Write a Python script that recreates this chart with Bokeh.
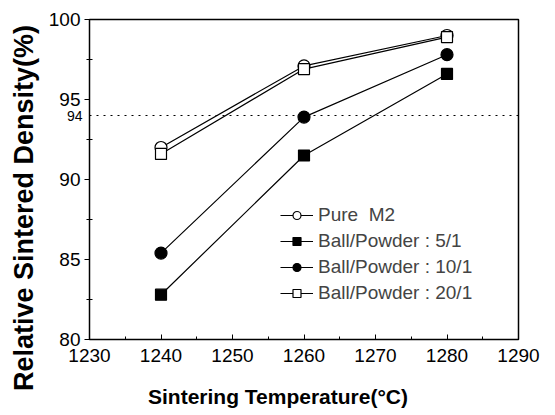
from bokeh.plotting import figure
from bokeh.models import FixedTicker, Legend, LegendItem, Label
from bokeh.embed import file_html
from bokeh.resources import INLINE

temps = [1240, 1260, 1280]
pure_m2 = [92.0, 97.1, 99.0]
bp_5_1 = [82.8, 91.5, 96.6]
bp_10_1 = [85.4, 93.9, 97.8]
bp_20_1 = [91.6, 96.9, 98.9]
labels = ["Pure  M2", "Ball/Powder : 5/1", "Ball/Powder : 10/1", "Ball/Powder : 20/1"]
y_ticks = [80, 85, 90, 95, 100]
x_ticks = [1230, 1240, 1250, 1260, 1270, 1280, 1290]
ref_level = 94
x_title = "Sintering Temperature(°C)"
y_title = "Relative Sintered Density(%)"

FONT = "Liberation Sans"

# The frame covers the whole canvas so that nothing (tick labels, the small
# "94" label) is clipped; the axes box sits at these pixel margins.
W, H = 555, 415
M_LEFT, M_RIGHT, M_TOP, M_BOTTOM = 89, 37, 19, 76
X0, X1 = x_ticks[0], x_ticks[-1]
Y0, Y1 = y_ticks[0], y_ticks[-1]
kx = (W - M_LEFT - M_RIGHT) / (X1 - X0)
ky = (H - M_TOP - M_BOTTOM) / (Y1 - Y0)
x_range = (X0 - M_LEFT / kx, X1 + M_RIGHT / kx)
y_range = (Y0 - M_BOTTOM / ky, Y1 + M_TOP / ky)

p = figure(width=W, height=H, output_backend="svg", toolbar_location=None,
           x_range=x_range, y_range=y_range, frame_width=W, frame_height=H,
           min_border=0)
p.background_fill_color = "white"
p.border_fill_color = "white"
p.outline_line_alpha = 0
p.xgrid.visible = False
p.ygrid.visible = False

# axes box
p.quad(left=[X0], right=[X1], bottom=[Y0], top=[Y1], fill_alpha=0,
       line_color="black", line_width=1.5)

for ax in (p.xaxis[0], p.yaxis[0]):
    ax.axis_line_alpha = 0
    ax.major_tick_line_color = "black"
    ax.minor_tick_line_color = "black"
    ax.major_label_text_font = FONT
    ax.major_label_text_font_size = "19px"
    ax.major_label_text_color = "black"
    ax.axis_label_text_font = FONT
    ax.axis_label_text_font_style = "bold"
    ax.axis_label_text_color = "black"

p.xaxis.fixed_location = Y0
p.xaxis.ticker = FixedTicker(ticks=x_ticks, minor_ticks=[1235, 1245, 1255, 1265, 1275, 1285])
p.xaxis.major_tick_in = 5
p.xaxis.major_tick_out = 0
p.xaxis.minor_tick_in = 3
p.xaxis.minor_tick_out = 0
p.xaxis.major_label_standoff = 9
p.xaxis.axis_label = x_title
p.xaxis.axis_label_text_font_size = "21px"
p.xaxis.axis_label_standoff = 20

p.yaxis.fixed_location = X0
p.yaxis.ticker = FixedTicker(ticks=y_ticks, minor_ticks=[82.5, 87.5, 92.5, 97.5])
p.yaxis.major_tick_in = 0
p.yaxis.major_tick_out = 5
p.yaxis.minor_tick_in = 3
p.yaxis.minor_tick_out = 3
p.yaxis.major_label_standoff = 4
p.yaxis.axis_label = y_title
p.yaxis.axis_label_text_font_size = "27px"
p.yaxis.axis_label_standoff = 7

# dotted reference line at 94 and its small label
p.line([X0, X1], [ref_level, ref_level], line_color="black",
       line_dash="2 5", line_width=1.2)
p.add_layout(Label(x=X0, y=ref_level, text=str(ref_level), text_align="right",
                   text_baseline="middle", x_offset=-7, text_font=FONT,
                   text_font_size="14px", text_color="black"))

series = [
    (pure_m2, "circle", "white", 12),
    (bp_5_1, "square", "black", 11),
    (bp_10_1, "circle", "black", 12),
    (bp_20_1, "square", "white", 11),
]
items = []
for (vals, marker, fill, sz), lab in zip(series, labels):
    ln = p.line(temps, vals, line_color="black", line_width=1.2)
    sc = p.scatter(temps, vals, marker=marker, size=sz, fill_color=fill,
                   line_color="black", line_width=1.2)
    items.append(LegendItem(label=lab, renderers=[ln, sc]))

legend = Legend(items=items, location=(M_LEFT + 189, M_BOTTOM + 33), border_line_alpha=0,
                background_fill_alpha=0, label_text_font=FONT,
                label_text_font_size="19px", glyph_width=33, glyph_height=20,
                label_height=20, spacing=4, padding=2, label_standoff=5)
p.add_layout(legend)

open("out.html", "w").write(file_html(p, INLINE))
